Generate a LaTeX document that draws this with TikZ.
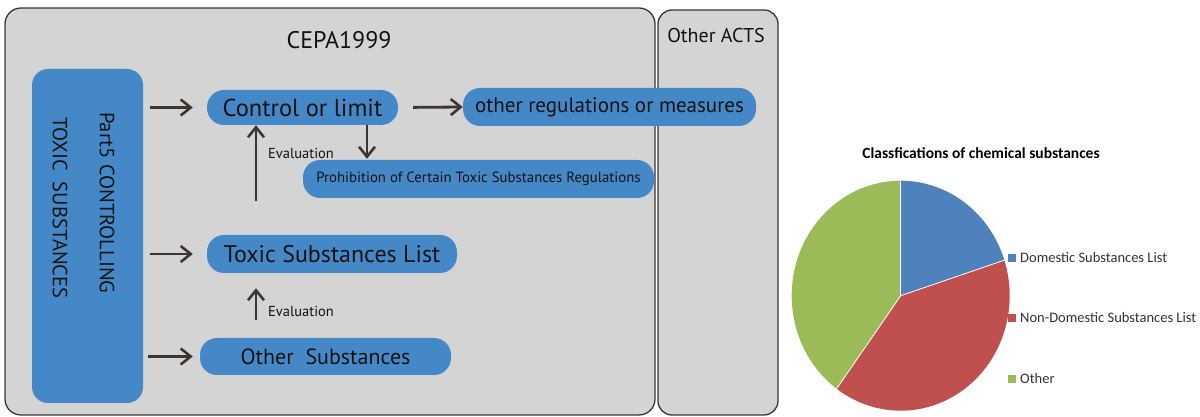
\documentclass[tikz,border=0pt]{standalone}
\usepackage{fontspec}
\setmainfont{PT Sans}
\newfontfamily\chartfont{Carlito}
\usetikzlibrary{arrows.meta}
\definecolor{panelgray}{HTML}{D4D4D4}
\definecolor{panelline}{HTML}{3A3633}
\definecolor{boxblue}{HTML}{4588C8}
\definecolor{txtdark}{HTML}{121212}
\definecolor{arrowcol}{HTML}{3D3530}
\definecolor{pieblue}{HTML}{4F81BD}
\definecolor{piered}{HTML}{C0504D}
\definecolor{piegreen}{HTML}{9BBB59}
\tikzset{
  panel/.style={draw=panelline, fill=panelgray, line width=1.3pt, inner sep=0pt},
  pill/.style={fill=boxblue, rounded corners=17pt, inner sep=0pt, text=txtdark, font=\fontsize{22}{24}\selectfont},
  flow/.style={draw=arrowcol, line width=2.8pt, -{Straight Barb[length=10pt,width=16pt,line width=2.6pt]}},
  evlabel/.style={anchor=west, inner sep=0pt, text=txtdark, font=\fontsize{14.5}{16}\selectfont},
  legsq/.style={fill=#1, minimum size=8pt, inner sep=0pt},
  legtxt/.style={anchor=west, inner sep=0pt, text=black!80, font=\chartfont\fontsize{14.5}{16}\selectfont}
}
\begin{document}
\begin{tikzpicture}[x=1pt,y=1pt]
\useasboundingbox (0,0) rectangle (1200,417);
% panels
\node[panel, rounded corners=16pt, minimum width=650pt, minimum height=407pt] (mainbox) at (330,205.5) {};
\node[panel, rounded corners=14pt, minimum width=120pt, minimum height=405pt] (actsbox) at (718,204.5) {};
\node[inner sep=0pt, text=txtdark, font=\fontsize{24}{26}\selectfont] (cepa) at (339,377) {CEPA1999};
\node[inner sep=0pt, text=txtdark, font=\fontsize{20}{22}\selectfont] (acts) at (716,381) {Other ACTS};
% vertical box
\node[fill=boxblue, rounded corners=16pt, minimum width=111pt, minimum height=334pt, inner sep=0pt] (vbox) at (87.5,181) {};
\node[rotate=-90, anchor=west, inner sep=0pt, text=txtdark, font=\fontsize{20.5}{22}\selectfont] (vt1) at (107,305) {Part5 CONTROLLING};
\node[rotate=-90, anchor=west, inner sep=0pt, text=txtdark, font=\fontsize{20.5}{22}\selectfont] (vt2) at (60,300) {TOXIC\ \ SUBSTANCES};
% blue pills
\node[pill, minimum width=191pt, minimum height=35pt, font=\fontsize{24.5}{26}\selectfont] (ctrl) at (302.5,309.5) {Control or limit};
\node[pill, minimum width=293pt, minimum height=38pt, font=\fontsize{21}{23}\selectfont] (regs) at (609.5,310) {other regulations or measures};
\node[pill, minimum width=351pt, minimum height=38pt, font=\fontsize{14.8}{16}\selectfont] (prohib) at (478.5,238) {Prohibition of Certain Toxic Substances Regulations};
\node[pill, minimum width=250pt, minimum height=38pt, font=\fontsize{24}{26}\selectfont] (tsl) at (332,163) {Toxic Substances List};
\node[pill, minimum width=251pt, minimum height=37pt] (oth) at (325.5,60.5) {Other\ \ Substances};
% arrows
\draw[flow, shorten <=7pt, shorten >=14pt] (vbox.east |- ctrl.west) -- (ctrl.west);
\draw[flow, shorten <=7pt, shorten >=14pt] (vbox.east |- tsl.west) -- (tsl.west);
\draw[flow, shorten <=5pt, shorten >=7pt] (vbox.east |- oth.west) -- (oth.west);
\draw[flow, shorten <=15pt] (ctrl.east) -- (regs.west);
\draw[flow, shorten >=1pt] ([xshift=64.5pt]ctrl.south) -- ([xshift=64.5pt]ctrl.south |- prohib.north);
\draw[flow, shorten <=34pt] ([xshift=-46.5pt]ctrl.south |- tsl.north) -- ([xshift=-46.5pt]ctrl.south);
\draw[flow, shorten <=18pt, shorten >=15pt] ([xshift=-46.5pt]ctrl.south |- oth.north) -- ([xshift=-46.5pt]ctrl.south |- tsl.south);
\node[evlabel] (ev1) at (268,264) {Evaluation};
\node[evlabel] (ev2) at (268,106) {Evaluation};
% pie chart
\coordinate (pc) at (900.7,121.3);
\fill[pieblue] (pc) -- +(90:109pt and 115pt) arc[start angle=90, end angle=18, x radius=109pt, y radius=115pt] -- cycle;
\fill[piered] (pc) -- +(18:109pt and 115pt) arc[start angle=18, end angle=-126, x radius=109pt, y radius=115pt] -- cycle;
\fill[piegreen] (pc) -- +(-126:109pt and 115pt) arc[start angle=-126, end angle=-270, x radius=109pt, y radius=115pt] -- cycle;
\draw[white, line width=0.8pt] (pc) -- +(90:109pt and 115pt);
\draw[white, line width=0.8pt] (pc) -- +(18:109pt and 115pt);
\draw[white, line width=0.8pt] (pc) -- +(-126:109pt and 115pt);
\node[inner sep=0pt, font=\chartfont\bfseries\fontsize{15.5}{17}\selectfont] (ptitle) at (981,264) {Classfications of chemical substances};
\node[legsq=pieblue] (sq1) at (1012,159.3) {};
\node[legsq=piered] (sq2) at (1012,99) {};
\node[legsq=piegreen] (sq3) at (1012,38) {};
\node[legtxt] (lt1) at (1020,159.3) {Domestic Substances List};
\node[legtxt] (lt2) at (1020,99) {Non-Domestic Substances List};
\node[legtxt] (lt3) at (1020,38) {Other};
\end{tikzpicture}
\end{document}
